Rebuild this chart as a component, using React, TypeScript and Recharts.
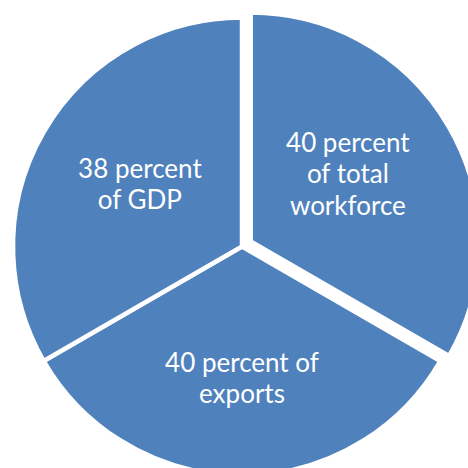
import { Cell, Pie, PieChart } from "recharts";

// Slice order follows the original: clockwise from 12 o'clock
const categories = [
  "40 percent of total workforce",
  "40 percent of exports",
  "38 percent of GDP",
];
const labelLines = [
  ["40 percent", "of total", "workforce"],
  ["40 percent of", "exports"],
  ["38 percent", "of GDP"],
];
// the three slices are drawn as equal thirds
const shares = [1, 1, 1];
const exploded = [true, false, false];

const BLUE = "#4F81BD";
const RADIAN = Math.PI / 180;
// small hand tweaks so labels sit where the original put them
const LABEL_NUDGE = [
  [-2, -11],
  [0, 5],
  [7, 0],
];

const data = categories.map((name, i) => ({ name, value: shares[i] }));

function makeLabel(showExploded: boolean) {
  return (props: any) => {
    const { cx, cy, midAngle, outerRadius, index } = props;
    if (exploded[index] !== showExploded) return null;
    const r = outerRadius * (showExploded ? 0.5 : 0.55);
    const x = cx + r * Math.cos(-midAngle * RADIAN) + LABEL_NUDGE[index][0];
    const y = cy + r * Math.sin(-midAngle * RADIAN) + LABEL_NUDGE[index][1];
    const lines = labelLines[index];
    const lh = 31.5;
    const top = y - ((lines.length - 1) * lh) / 2;
    return (
      <text
        key={`label-${index}`}
        x={x}
        y={top}
        fill="#fff"
        textAnchor="middle"
        dominantBaseline="central"
        fontFamily="Lato, sans-serif"
        fontSize={26}
      >
        {lines.map((line, j) => (
          <tspan key={j} x={x} y={top + j * lh} dominantBaseline="central">
            {line}
          </tspan>
        ))}
      </text>
    );
  };
}

export default function App() {
  return (
    <div style={{ position: "fixed", left: 0, top: 0, width: 468, height: 468, overflow: "hidden", background: "#fff" }}>
      <PieChart width={468} height={468} margin={{ top: 0, right: 0, bottom: 0, left: 0 }}>
        <Pie
          data={data}
          dataKey="value"
          nameKey="name"
          cx={242}
          cy={246.5}
          outerRadius={229}
          startAngle={90}
          endAngle={-270}
          stroke="#fff"
          strokeWidth={4.5}
          label={makeLabel(false)}
          labelLine={false}
          isAnimationActive={false}
        >
          {data.map((d, i) => (
            <Cell
              key={d.name}
              fill={exploded[i] ? "none" : BLUE}
              stroke={exploded[i] ? "none" : "#fff"}
            />
          ))}
        </Pie>
        <Pie
          data={data}
          dataKey="value"
          nameKey="name"
          cx={250.7}
          cy={241.5}
          outerRadius={229}
          startAngle={90}
          endAngle={-270}
          stroke="#fff"
          strokeWidth={4.5}
          label={makeLabel(true)}
          labelLine={false}
          isAnimationActive={false}
        >
          {data.map((d, i) => (
            <Cell
              key={d.name}
              fill={exploded[i] ? BLUE : "none"}
              stroke={exploded[i] ? "#fff" : "none"}
            />
          ))}
        </Pie>
      </PieChart>
    </div>
  );
}
